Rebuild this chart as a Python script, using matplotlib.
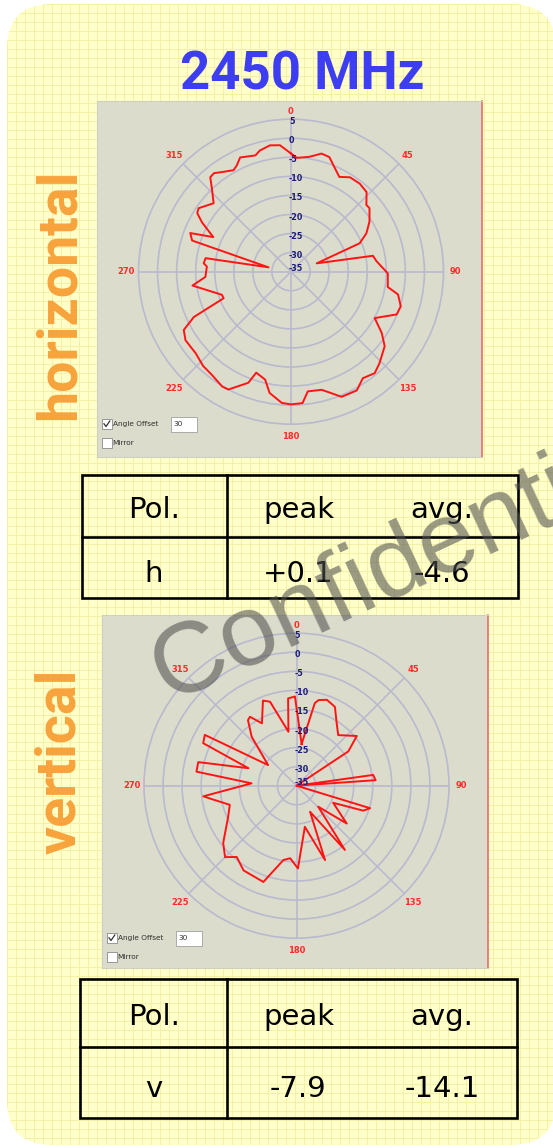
import numpy as np
import matplotlib
matplotlib.use("Agg")
import matplotlib.pyplot as plt
from matplotlib.patches import FancyBboxPatch, Rectangle
import matplotlib.transforms as mtransforms

W, H = 553, 1148

# horizontal cut, angle (deg, clockwise from top) / level (dB)
h_angle = [0, 3, 9, 14.5, 18.5, 27, 32, 38, 43.5, 48.5,
           51, 57.5, 63, 67.5, 72, 79, 83, 91, 99, 102,
           107.5, 112, 119, 124, 128.5, 136, 140.5, 146, 151, 158,
           162, 165.5, 172, 175, 180, 184, 190, 193.5, 199, 201,
           208, 211, 217.5, 223, 229.5, 237, 241.5, 245, 248.5, 251.5,
           262, 266.5, 273.5, 275.5, 279, 281, 287.5, 291, 294, 299,
           302, 304.5, 311.5, 316, 319.5, 322, 326, 330.5, 333, 336,
           343, 345.5, 350.5, 355]
h_db = [-4.0, -5.1, -4.5, -3.0, -3.3, -7.1, -5.8, -5.7, -6.2, -8.6,
        -8.5, -10.6, -12.8, -15.5, -27.9, -13.1, -12.4, -9.6, -9.3, -6.3,
        -4.8, -5.1, -9.9, -6.3, -3.6, -1.6, -0.5, -1.3, 0.6, 0.4,
        -1.6, -3.0, -3.3, -0.4, -0.2, -0.5, -2.7, -5.9, -7.0, -3.8,
        0.0, 0.1, -0.9, -1.2, -2.1, -2.0, -3.0, -6.9, -16.0, -15.9,
        -8.9, -12.5, -12.9, -12.0, -12.3, -29.0, -7.8, -6.7, -12.7, -8.3,
        -6.0, -5.6, -7.9, -5.2, -2.4, -2.2, -3.4, -4.4, -3.7, -2.2,
        -3.1, -2.2, -1.4, -1.7]

# vertical cut
v_angle = [7, 12.5, 14.5, 19.5, 26, 32, 39.5, 50.5, 56.5, 70,
           82, 86, 95, 107, 110.5, 115, 127, 134, 143, 152.5,
           159, 168.5, 179, 185, 190, 199, 212, 220, 225, 232,
           245.5, 254, 261.5, 263.5, 273, 278, 283.5, 290, 294.5, 299,
           306, 317.5, 323.5, 326, 331, 338.5, 342.5, 351.5, 354.5, 359]
v_db = [-24.0, -12.8, -11.8, -11.1, -12.0, -15.2, -17.8, -14.5, -18.7, -35,
        -14.7, -14.2, -35, -14.8, -16.3, -24.4, -18.5, -27.1, -13.9, -27.3,
        -14.1, -24.0, -13.3, -15.9, -15.2, -8.3, -8.8, -10.6, -8.5, -10.6,
        -15.3, -16.8, -12.1, -10.4, -23.2, -8.5, -8.5, -21.6, -8.1, -7.5,
        -25.8, -17.6, -13.6, -13.2, -16.3, -11.0, -11.9, -20.7, -12.0, -11.6]

ring_values = [5, 0, -5, -10, -15, -20, -25, -30, -35]
angle_ticks = [0, 45, 90, 135, 180, 225, 270, 315]

table_header = ["Pol.", "peak", "avg."]
h_row = ["h", "+0.1", "-4.6"]
v_row = ["v", "-7.9", "-14.1"]

title = "2450 MHz"
offset_value = "30"

GRID = '#b9b9cf'


def px_rect(x0, y0, x1, y1):
    return [x0 / W, 1 - y1 / H, (x1 - x0) / W, (y1 - y0) / H]


fig = plt.figure(figsize=(W / 100, H / 100), dpi=100)
fig.patch.set_facecolor('white')

# yellow card with grid paper
bg = fig.add_axes([0, 0, 1, 1], zorder=0)
bg.set_xlim(0, W)
bg.set_ylim(H, 0)
bg.axis('off')
card = FancyBboxPatch((7, 4), 549, 1141, boxstyle="round,pad=0,rounding_size=45",
                      fc='#ffffc9', ec='none', zorder=0)
bg.add_patch(card)
for gx in np.arange(7, W, 9):
    ln, = bg.plot([gx, gx], [0, H], color='#f3eea2', lw=0.6, zorder=0.5)
    ln.set_clip_path(card)
for gy in np.arange(4, H, 9):
    ln, = bg.plot([0, W], [gy, gy], color='#f3eea2', lw=0.6, zorder=0.5)
    ln.set_clip_path(card)

bg.text(302, 90, title, ha='center', va='baseline', color='#3d3df2',
        fontsize=38, fontweight='bold', family='Roboto', zorder=4)
bg.text(75, 294, "horizontal", rotation=90, rotation_mode='anchor', ha='center',
        va='baseline', color='#f8a33c', fontsize=40, fontweight='bold', family='Roboto', zorder=4)
bg.text(75, 761, "vertical", rotation=90, rotation_mode='anchor', ha='center',
        va='baseline', color='#f8a33c', fontsize=40, fontweight='bold', family='Roboto', zorder=4)


def table(box, row_y, col_x, head_base, row_base, row):
    x0, y0, x1, y1 = box
    bg.add_patch(Rectangle((x0, y0), x1 - x0, y1 - y0, fc='none', ec='black', lw=1.9, zorder=3))
    bg.plot([x0, x1], [row_y, row_y], color='black', lw=1.9, zorder=3)
    bg.plot([col_x, col_x], [y0, y1], color='black', lw=1.9, zorder=3)
    for x, s in zip([154, 299, 442], table_header):
        bg.text(x, head_base, s, ha='center', va='baseline', fontsize=21, color='black', zorder=4)
    for x, s in zip([154, 298, 442], row):
        bg.text(x, row_base, s, ha='center', va='baseline', fontsize=21, color='black', zorder=4)


table((82, 475, 518, 598), 537, 227, 518, 582, h_row)
table((80, 979, 517, 1118), 1047, 227, 1025, 1097, v_row)


def panel(box, center, angles, dbs):
    x0, y0, x1, y1 = box
    pax = fig.add_axes(px_rect(*box), zorder=1)
    pax.set_xlim(x0, x1)
    pax.set_ylim(y1, y0)
    pax.set_facecolor('#dcdccc')
    pax.set_xticks([])
    pax.set_yticks([])
    for s in pax.spines.values():
        s.set_color('#cfcfc0')
        s.set_linewidth(0.8)
    pax.spines['right'].set_color('#e07070')
    pax.spines['right'].set_linewidth(1.2)

    # little form widgets at the bottom left
    bx, by = x0 + 5, y0 + 318
    pax.add_patch(Rectangle((bx, by), 9.5, 9.5, fc='white', ec='#8a8a8a', lw=0.6))
    pax.plot([bx + 2, bx + 4, bx + 7.8], [by + 4.8, by + 7.5, by + 2], color='#303030', lw=0.9)
    pax.text(bx + 10.7, by + 5, "Angle Offset", ha='left', va='center', fontsize=5.3, color='#303030')
    pax.add_patch(Rectangle((bx + 69, by - 2.5), 26, 15, fc='white', ec='#a0a0a0', lw=0.6))
    pax.text(bx + 71, by + 5, offset_value, ha='left', va='center', fontsize=5.3, color='#303030')
    pax.add_patch(Rectangle((bx, by + 19), 9.5, 9.5, fc='white', ec='#8a8a8a', lw=0.6))
    pax.text(bx + 10.7, by + 24, "Mirror", ha='left', va='center', fontsize=5.3, color='#303030')

    cx, cy = center
    R = 152.5
    ax = fig.add_axes(px_rect(cx - R, cy - R, cx + R, cy + R), projection='polar', zorder=2)
    ax.set_facecolor('none')
    ax.set_theta_zero_location('N')
    ax.set_theta_direction(-1)
    ax.set_rlim(-35, 5)
    ax.set_yticks([-30, -25, -20, -15, -10, -5, 0])
    ax.set_yticklabels([])
    ax.set_xticks(np.deg2rad(angle_ticks))
    ax.set_xticklabels([])
    ax.tick_params(length=0)
    ax.grid(True, color=GRID, lw=1.2)
    ax.spines['polar'].set_color(GRID)
    ax.spines['polar'].set_linewidth(1.2)

    th = np.deg2rad(np.append(angles, angles[0]))
    rr = np.append(dbs, dbs[0])
    ax.plot(th, rr, color='#ff1414', lw=1.4, clip_on=False, zorder=5)

    for v in ring_values:
        dy = 3 if v == -35 else -2.5
        tr = ax.transData + mtransforms.ScaledTranslation(-2 / 100, dy / 100, fig.dpi_scale_trans)
        ax.text(0, v, str(v), transform=tr, ha='left', va='center', color='#1c1c78',
                fontsize=5.8, fontweight='bold', clip_on=False, zorder=6)
    for a in angle_ticks:
        r = 7.0 if a == 0 else 8.2
        ax.text(np.deg2rad(a), r, str(a), ha='center', va='center', color='#ff2a2a',
                fontsize=6, fontweight='bold', clip_on=False, zorder=6)


panel((97, 101, 482, 457), (291, 271.7), h_angle, h_db)
panel((102, 615, 488, 968), (296.5, 785.7), v_angle, v_db)

fig.text(168 / W, 1 - 702 / H, "Confidential", rotation=25, rotation_mode='anchor',
         ha='left', va='baseline', fontsize=73, family='Liberation Sans',
         color='#505050', alpha=0.58, zorder=20)

fig.savefig("out.png", dpi=100)
